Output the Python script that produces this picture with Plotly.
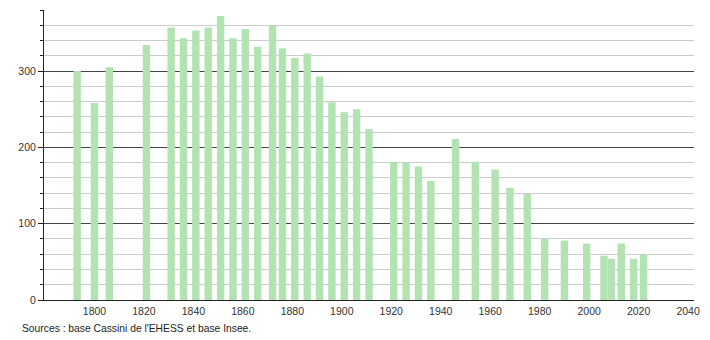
import plotly.graph_objects as go

years = [1793, 1800, 1806, 1821, 1831, 1836, 1841, 1846, 1851, 1856, 1861, 1866,
         1872, 1876, 1881, 1886, 1891, 1896, 1901, 1906, 1911, 1921, 1926, 1931,
         1936, 1946, 1954, 1962, 1968, 1975, 1982, 1990, 1999, 2006, 2009, 2013,
         2018, 2022]
population = [300, 258, 305, 334, 357, 343, 353, 357, 372, 343, 355, 332,
              359, 330, 317, 323, 293, 259, 246, 250, 224, 181, 180, 175,
              156, 211, 181, 171, 147, 139, 80, 78, 74, 58, 54, 74,
              54, 59]
x_ticks = [1800, 1820, 1840, 1860, 1880, 1900, 1920, 1940, 1960, 1980, 2000, 2020, 2040]
y_ticks = [0, 100, 200, 300]
source_text = "Sources : base Cassini de l'EHESS et base Insee."

W, H = 710, 340
L, R, T, B = 44, 10, 10, 40
pw = W - L - R
ph = H - T - B

fig = go.Figure()
fig.add_trace(go.Bar(
    x=years, y=population, width=3,
    marker=dict(color="#b3e3b3", line=dict(width=0)),
    hoverinfo="x+y",
))

fig.update_layout(
    width=W, height=H,
    margin=dict(l=L, r=R, t=T, b=B, pad=0),
    plot_bgcolor="white", paper_bgcolor="white",
    showlegend=False,
    font=dict(family="Liberation Sans, Arial, sans-serif", size=10.5, color="#333"),
    xaxis=dict(
        range=[1779.6, 2042.4],
        tickvals=x_ticks, ticktext=[str(v) for v in x_ticks],
        showgrid=False, zeroline=False,
        showline=True, linecolor="#222", linewidth=1,
        ticks="", ticklabelstandoff=1,
        tickfont=dict(size=10.5, color="#333"),
    ),
    yaxis=dict(
        range=[0, 380],
        tickvals=y_ticks,
        showgrid=True, gridcolor="#444", gridwidth=1,
        zeroline=False,
        showline=True, linecolor="#222", linewidth=1,
        ticks="outside", ticklen=5, tickcolor="#222",
        tickfont=dict(size=10.5, color="#333"),
        minor=dict(dtick=20, tick0=0, showgrid=True, gridcolor="#cccccc",
                   gridwidth=1, ticks="outside", ticklen=3, tickcolor="#222"),
    ),
    annotations=[dict(
        text=source_text, xref="paper", yref="paper",
        x=(20 - L) / pw, y=(H - B - 328) / ph,
        xanchor="left", yanchor="middle", showarrow=False,
        font=dict(size=10.3, color="#222"),
    )],
)

fig.write_html("out.html")
